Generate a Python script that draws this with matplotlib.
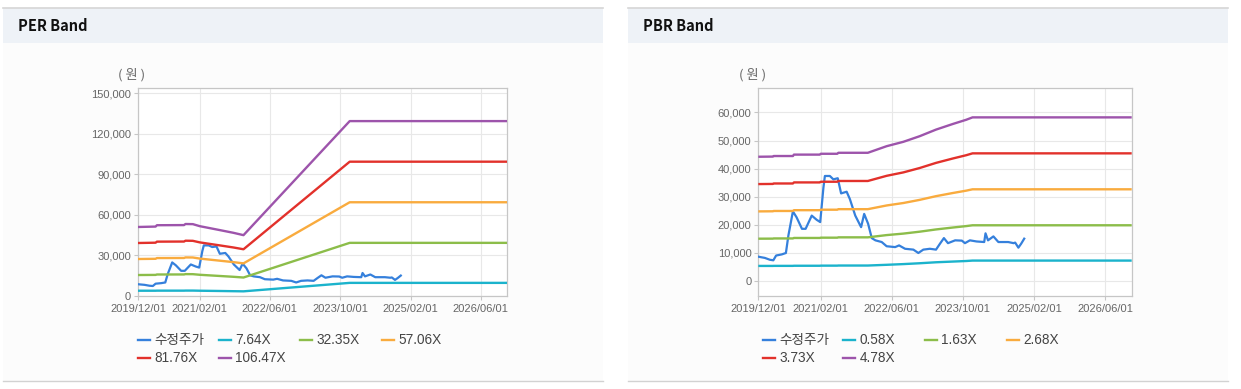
import numpy as np
import matplotlib
matplotlib.use('Agg')
import matplotlib.pyplot as plt
import matplotlib.dates as mdates
from matplotlib.lines import Line2D
from matplotlib.patches import Rectangle
from matplotlib.ticker import FuncFormatter, FixedLocator

plt.rcParams['font.family'] = ['Liberation Sans', 'Noto Sans CJK KR', 'DejaVu Sans']

# ---------------- data ----------------
price_dates = ['2019-12-01', '2019-12-20', '2020-01-15', '2020-02-18', '2020-03-13', '2020-04-01',
               '2020-05-10', '2020-06-07', '2020-06-24', '2020-07-25', '2020-08-19', '2020-09-25',
               '2020-10-20', '2020-12-01', '2021-01-04', '2021-01-28', '2021-02-19', '2021-03-01',
               '2021-04-04', '2021-04-28', '2021-05-28', '2021-06-20', '2021-07-28', '2021-08-19',
               '2021-09-25', '2021-11-04', '2021-11-25', '2021-12-22', '2022-01-16', '2022-02-10',
               '2022-03-25', '2022-04-28', '2022-06-25', '2022-07-22', '2022-09-01', '2022-10-28',
               '2022-12-01', '2023-01-04', '2023-02-18', '2023-04-01', '2023-04-28', '2023-05-25',
               '2023-06-22', '2023-08-10', '2023-09-25', '2023-10-16', '2023-11-19', '2024-01-04',
               '2024-02-25', '2024-03-05', '2024-03-22', '2024-04-28', '2024-06-01', '2024-08-07',
               '2024-09-13', '2024-09-24', '2024-10-16', '2024-11-04', '2024-11-25']
price_values = [8700, 8500, 8250, 7600, 7400, 9100,
                9500, 10000, 16200, 24800, 22700, 18600,
                18600, 23300, 21800, 21000, 33300, 37400,
                37400, 36200, 36600, 31200, 31800, 29200,
                23300, 19200, 23900, 20400, 15300, 14500,
                13900, 12400, 12100, 12700, 11500, 11200,
                10000, 11200, 11500, 11200, 13300, 15300,
                13500, 14500, 14400, 13500, 14500, 14100,
                13900, 17000, 14500, 15900, 13900, 13900,
                13500, 13700, 11900, 13300, 15100]

per_band_dates = ['2019-12-01', '2020-04-01', '2020-04-10', '2020-10-15', '2020-10-25', '2020-12-15',
                  '2021-02-01', '2021-06-22', '2021-09-22', '2021-12-01', '2023-12-07', '2026-12-01']
per_labels = ['수정주가', '7.64X', '32.35X', '57.06X', '81.76X', '106.47X']
per_cyan = [3900, 3900, 3950, 3950, 4000, 4000, 3900, 3700, 3550, 3450, 9700, 9700]
per_green = [15500, 15590, 15890, 15920, 16170, 16130, 15680, 14780, 14190, 13660, 39270, 39270]
per_orange = [27330, 27490, 28030, 28090, 28510, 28460, 27650, 26070, 25030, 24100, 69270, 69270]
per_red = [39160, 39390, 40160, 40240, 40860, 40770, 39620, 37360, 35860, 34530, 99250, 99250]
per_purple = [51000, 51300, 52300, 52400, 53200, 53100, 51600, 48650, 46700, 44960, 129240, 129240]

pbr_band_dates = ['2019-12-01', '2020-03-10', '2020-03-15', '2020-07-25', '2020-08-01', '2021-01-25',
                  '2021-02-01', '2021-05-25', '2021-06-01', '2021-12-20', '2022-04-28', '2022-08-20',
                  '2022-12-10', '2023-04-01', '2023-07-25', '2023-10-25', '2023-12-07', '2026-12-01']
pbr_labels = ['수정주가', '0.58X', '1.63X', '2.68X', '3.73X', '4.78X']
pbr_cyan = [5400, 5400, 5420, 5420, 5460, 5460, 5500, 5500, 5540, 5540, 5800, 6050,
            6350, 6700, 6950, 7150, 7300, 7300]
pbr_green = [15090, 15110, 15180, 15180, 15350, 15350, 15450, 15450, 15570, 15570, 16370, 16900,
             17580, 18380, 19060, 19570, 19860, 19860]
pbr_orange = [24800, 24840, 24950, 24950, 25230, 25230, 25400, 25400, 25590, 25590, 26910, 27780,
              28900, 30220, 31340, 32180, 32660, 32660]
pbr_red = [34520, 34570, 34730, 34730, 35110, 35110, 35350, 35350, 35620, 35620, 37460, 38670,
           40230, 42060, 43620, 44790, 45450, 45450]
pbr_purple = [44240, 44300, 44500, 44500, 45000, 45000, 45300, 45300, 45650, 45650, 48000, 49550,
              51550, 53900, 55900, 57400, 58250, 58250]

x_ticks = ['2019-12-01', '2021-02-01', '2022-06-01', '2023-10-01', '2025-02-01', '2026-06-01']
x_range = ['2019-12-01', '2026-12-01']
per_yticks = [0, 30000, 60000, 90000, 120000, 150000]
pbr_yticks = [0, 10000, 20000, 30000, 40000, 50000, 60000]

colors = ['#3580dc', '#1bb3cc', '#8cbd4a', '#f9ab3e', '#e2312b', '#9d54ab']

# ---------------- figure ----------------
W, H = 1241, 389
fig = plt.figure(figsize=(W / 100, H / 100), dpi=100)
fig.patch.set_facecolor('white')


def fx(x):
    return x / W


def fy(y):
    return 1 - y / H


def panel(x0, x1, title):
    fig.add_artist(Rectangle((fx(x0), fy(381)), fx(x1 - x0), (381 - 43) / H,
                             transform=fig.transFigure, fc='#fcfcfc', ec='none', zorder=0))
    fig.add_artist(Rectangle((fx(x0), fy(43)), fx(x1 - x0), 35 / H,
                             transform=fig.transFigure, fc='#eef2f7', ec='none', zorder=0))
    fig.add_artist(Line2D([fx(x0), fx(x1)], [fy(7.5), fy(7.5)], transform=fig.transFigure,
                          color='#d6d6d6', lw=1.2, zorder=1))
    fig.add_artist(Line2D([fx(x0), fx(x1)], [fy(381), fy(381)], transform=fig.transFigure,
                          color='#d2d2d2', lw=1.0, zorder=1))
    fig.text(fx(x0 + 15), fy(26), title, ha='left', va='center', fontsize=10.5,
             fontweight='bold', color='#111111', family=['Noto Sans CJK KR'])


panel(3, 603, 'PER Band')
panel(628, 1228, 'PBR Band')

pdates = np.array(price_dates, dtype='datetime64[D]')


def make_axes(left, width, ylim, yticks, band_dates, bands):
    ax = fig.add_axes([fx(left), fy(296), fx(width), 208 / H])
    ax.set_facecolor('white')
    bd = np.array(band_dates, dtype='datetime64[D]')
    ax.plot(pdates, price_values, color=colors[0], lw=1.6, zorder=3, solid_joinstyle='round')
    for c, vals in zip(colors[1:], bands):
        ax.plot(bd, vals, color=c, lw=1.7, zorder=4, solid_capstyle='butt')
    xr = np.array(x_range, dtype='datetime64[D]')
    ax.set_xlim(xr[0], xr[1])
    ax.set_ylim(*ylim)
    ax.xaxis.set_major_locator(FixedLocator(mdates.date2num(np.array(x_ticks, dtype='datetime64[D]'))))
    ax.xaxis.set_major_formatter(mdates.DateFormatter('%Y/%m/%d'))
    ax.yaxis.set_major_locator(FixedLocator(yticks))
    ax.yaxis.set_major_formatter(FuncFormatter(lambda v, p: '{:,}'.format(int(v))))
    ax.grid(True, color='#e8e8e8', lw=0.8, zorder=0)
    ax.set_axisbelow(True)
    for s in ax.spines.values():
        s.set_color('#c6c6c6')
        s.set_linewidth(0.9)
    ax.tick_params(axis='both', colors='#c6c6c6', labelcolor='#666666', labelsize=8,
                   length=3, width=0.8)
    ax.tick_params(axis='y', pad=2)
    ax.tick_params(axis='x', pad=3)
    return ax


axL = make_axes(138, 369, (0, 153700), per_yticks, per_band_dates,
                [per_cyan, per_green, per_orange, per_red, per_purple])
axR = make_axes(758.3, 373.4, (-5300, 68700), pbr_yticks, pbr_band_dates,
                [pbr_cyan, pbr_green, pbr_orange, pbr_red, pbr_purple])

fig.text(fx(131.5), fy(75), '( 원 )', ha='center', va='center', fontsize=9.5, color='#666666',
         family=['Noto Sans CJK KR'])
fig.text(fx(752.5), fy(75), '( 원 )', ha='center', va='center', fontsize=9.5, color='#666666',
         family=['Noto Sans CJK KR'])


def legend(labels, xs, rows):
    for i, (lab, c) in enumerate(zip(labels, colors)):
        r, col = divmod(i, 4)
        x0 = xs[col]
        y0 = rows[r]
        fig.add_artist(Line2D([fx(x0), fx(x0 + 12)], [fy(y0), fy(y0)], transform=fig.transFigure,
                              color=c, lw=1.7))
        fig.text(fx(x0 + 16.5), fy(y0), lab, ha='left', va='center', fontsize=9.8, color='#444444')


legend(per_labels, [138, 219, 300, 382], [340, 357.5])
legend(pbr_labels, [763, 843, 925, 1007], [340, 357.5])

fig.savefig('out.png', dpi=100, facecolor='white')
